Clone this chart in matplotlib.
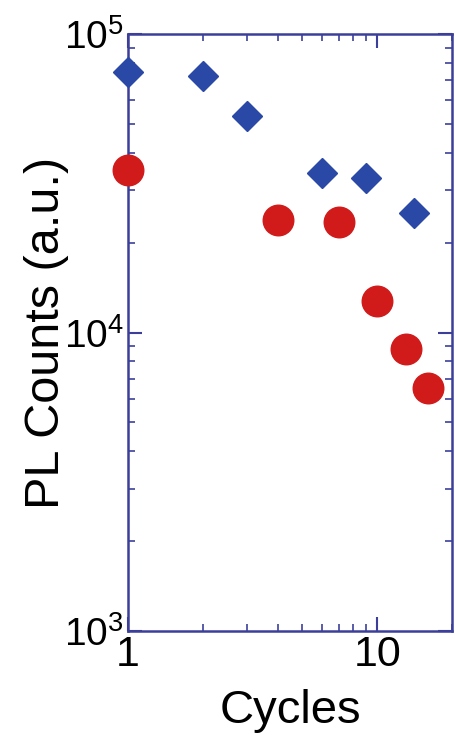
import matplotlib
matplotlib.use("Agg")
import matplotlib.pyplot as plt
import numpy as np

plt.rcParams['font.family'] = ['Liberation Sans', 'DejaVu Sans']
plt.rcParams['mathtext.default'] = 'regular'

# data
cycles_a = [1, 2, 3, 6, 9, 14]
counts_a = [74600, 72300, 53100, 34200, 33000, 25100]
cycles_b = [1, 4, 7, 10, 13, 16]
counts_b = [35000, 23800, 23500, 12750, 8800, 6520]

axis_col = '#3c3f9a'

fig = plt.figure(figsize=(4.55, 7.39), dpi=100)
ax = fig.add_axes([0.281, 0.146, 0.713, 0.808])

ax.plot(cycles_a, counts_a, 'D', color='#2a48a6', markersize=15, clip_on=False, zorder=3)
ax.plot(cycles_b, counts_b, 'o', color='#d11a1a', markersize=22, clip_on=False, zorder=3)

ax.set_xscale('log')
ax.set_yscale('log')
ax.set_xlim(1, 20)
ax.set_ylim(1e3, 1e5)

for s in ax.spines.values():
    s.set_color(axis_col)
    s.set_linewidth(1.8)

ax.tick_params(which='both', direction='in', top=True, right=True, color=axis_col, pad=3)
ax.tick_params(which='major', length=10, width=1.5)
ax.tick_params(which='minor', length=5, width=1.2)
ax.tick_params(axis='y', labelsize=28)
ax.tick_params(axis='x', labelsize=31)
ax.xaxis.set_minor_formatter(plt.NullFormatter())
ax.set_xticks([1, 10])
ax.set_xticklabels(['1', '10'])

ax.set_xlabel('Cycles', fontsize=34, labelpad=10)
ax.set_ylabel('PL Counts (a.u.)', fontsize=35, labelpad=-4)

fig.savefig('out.png', dpi=100)
